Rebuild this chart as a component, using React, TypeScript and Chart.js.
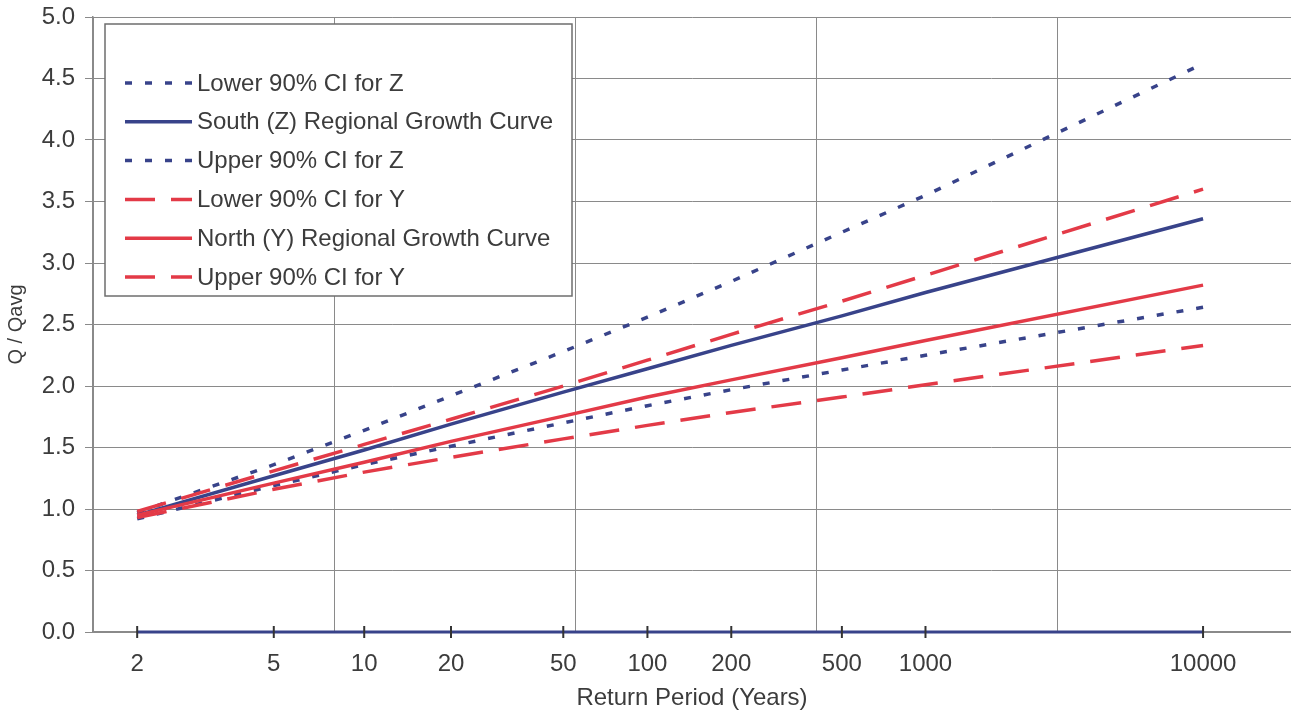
import React, { useEffect, useRef } from 'react';
import { Chart, registerables } from 'chart.js';

Chart.register(...registerables);

// ---- Data ----
const returnPeriods = [2, 5, 10, 20, 50, 100, 200, 500, 1000, 10000];
const xTickLabels = ['2', '5', '10', '20', '50', '100', '200', '500', '1000', '10000'];

const lowerZ = [0.92, 1.19, 1.36, 1.51, 1.70, 1.84, 1.97, 2.13, 2.25, 2.64];
const southZ = [0.95, 1.27, 1.48, 1.69, 1.95, 2.14, 2.33, 2.57, 2.76, 3.36];
const upperZ = [0.97, 1.36, 1.64, 1.92, 2.28, 2.56, 2.85, 3.25, 3.55, 4.62];
const lowerY = [0.93, 1.16, 1.30, 1.42, 1.57, 1.68, 1.785, 1.91, 2.01, 2.33];
const northY = [0.95, 1.21, 1.38, 1.55, 1.755, 1.91, 2.05, 2.23, 2.37, 2.82];
const upperY = [0.98, 1.31, 1.525, 1.73, 2.00, 2.21, 2.42, 2.69, 2.90, 3.60];

const seriesLabels = [
  'Lower 90% CI for Z',
  'South (Z) Regional Growth Curve',
  'Upper 90% CI for Z',
  'Lower 90% CI for Y',
  'North (Y) Regional Growth Curve',
  'Upper 90% CI for Y',
];

const BLUE = '#38438a';
const RED = '#e33a47';
const TEXT = '#3c3c3c';
const GRID = '#8a8a8a';
const FONT = '"Liberation Sans", Arial, Helvetica, sans-serif';

// Gumbel reduced variate: the probability scale used on the x axis
const reducedVariate = (T: number) => -Math.log(-Math.log(1 - 1 / T));

const toPoints = (vals: number[]) => vals.map((v, i) => ({ x: reducedVariate(returnPeriods[i]), y: v }));

const DOT = [7, 13];
const DASH = [30, 16];

const boxLegend = {
  id: 'boxLegend',
  afterDatasetsDraw(chart: any) {
    const { ctx, chartArea } = chart;
    const left = chartArea.left + 12;
    const top = chartArea.top + 7;
    const w = 467;
    const h = 272;
    ctx.save();
    ctx.fillStyle = '#ffffff';
    ctx.fillRect(left, top, w, h);
    ctx.strokeStyle = '#6e6e6e';
    ctx.lineWidth = 1.5;
    ctx.strokeRect(left, top, w, h);
    ctx.font = `24px ${FONT}`;
    ctx.textBaseline = 'middle';
    ctx.textAlign = 'left';
    chart.data.datasets.forEach((ds: any, i: number) => {
      if (ds.hideInLegend) return;
      const y = top + 59 + i * 38.8;
      ctx.beginPath();
      ctx.setLineDash(ds.borderDash || []);
      ctx.lineCap = 'butt';
      ctx.strokeStyle = ds.borderColor;
      ctx.lineWidth = ds.borderWidth;
      ctx.moveTo(left + 20, y);
      ctx.lineTo(left + 87, y);
      ctx.stroke();
      ctx.setLineDash([]);
      ctx.fillStyle = TEXT;
      ctx.fillText(ds.label, left + 92, y + 1);
    });
    ctx.restore();
  },
};

export default function App() {
  const canvasRef = useRef<HTMLCanvasElement | null>(null);

  useEffect(() => {
    document.body.style.margin = '0';
    const canvas = canvasRef.current;
    if (!canvas) return;

    const mk = (label: string, vals: number[], color: string, dash: number[], order: number) => ({
      label,
      data: toPoints(vals),
      borderColor: color,
      backgroundColor: color,
      borderWidth: 3.5,
      borderDash: dash,
      borderCapStyle: 'butt',
      pointRadius: 0,
      pointHoverRadius: 0,
      fill: false,
      tension: 0,
      order,
    });

    const noSidePad = (s: any) => {
      s.paddingLeft = 0;
      s.paddingRight = 0;
    };

    const chart = new Chart(canvas, {
      type: 'line',
      data: {
        datasets: [
          mk(seriesLabels[0], lowerZ, BLUE, DOT, 2),
          mk(seriesLabels[1], southZ, BLUE, [], 2),
          mk(seriesLabels[2], upperZ, BLUE, DOT, 2),
          mk(seriesLabels[3], lowerY, RED, DASH, 1),
          mk(seriesLabels[4], northY, RED, [], 1),
          mk(seriesLabels[5], upperY, RED, DASH, 1),
          {
            label: 'axis',
            hideInLegend: true,
            data: returnPeriods.map((T) => ({ x: reducedVariate(T), y: 0 })),
            borderColor: BLUE,
            borderWidth: 3,
            pointStyle: 'line',
            pointRotation: 90,
            pointRadius: 6,
            pointBorderColor: '#333333',
            pointBorderWidth: 2,
            pointHoverRadius: 6,
            clip: false,
            order: 3,
          } as any,
        ] as any,
      },
      options: {
        responsive: false,
        animation: false,
        events: [],
        layout: { autoPadding: false, padding: { top: 17, right: 0, left: 0, bottom: 0 } },
        plugins: {
          legend: { display: false },
          tooltip: { enabled: false },
        },
        scales: {
          x: {
            type: 'linear',
            position: 'bottom',
            min: 0,
            max: 9.94,
            afterBuildTicks: (s: any) => {
              s.ticks = returnPeriods.map((T) => ({ value: reducedVariate(T) }));
            },
            ticks: {
              autoSkip: false,
              maxRotation: 0,
              padding: 10,
              color: TEXT,
              font: { size: 24, family: FONT },
              callback: (_v: any, i: number) => xTickLabels[i],
            },
            grid: { display: false },
            border: { display: true, color: GRID, width: 2 },
            title: {
              display: true,
              text: 'Return Period (Years)',
              color: TEXT,
              font: { size: 24, family: FONT },
              padding: { top: 0, bottom: 2 },
            },
            afterFit: (s: any) => {
              s.height = 83;
              noSidePad(s);
            },
          },
          xg: {
            type: 'linear',
            position: 'top',
            min: 0,
            max: 9.94,
            ticks: { display: false, stepSize: 2 },
            grid: { color: GRID, lineWidth: 1, drawTicks: false },
            border: { display: false },
            afterFit: (s: any) => {
              s.height = 0;
              noSidePad(s);
            },
          },
          y: {
            type: 'linear',
            min: 0,
            max: 5,
            ticks: {
              stepSize: 0.5,
              padding: 10,
              color: TEXT,
              font: { size: 24, family: FONT },
              callback: (v: any) => Number(v).toFixed(1),
            },
            grid: { color: GRID, lineWidth: 1, tickLength: 8 },
            border: { display: true, color: GRID, width: 1.5 },
            title: {
              display: true,
              text: 'Q / Qavg',
              color: TEXT,
              font: { size: 20, family: FONT },
              padding: { top: 4, bottom: 0 },
            },
            afterFit: (s: any) => {
              s.width = 93;
              s.paddingTop = 0;
              s.paddingBottom = 0;
            },
          },
        },
      } as any,
      plugins: [boxLegend],
    });

    return () => chart.destroy();
  }, []);

  return (
    <div style={{ position: 'fixed', left: 0, top: 0, width: 1291, height: 715, background: '#ffffff' }}>
      <canvas ref={canvasRef} width={1291} height={715} style={{ display: 'block' }} />
    </div>
  );
}
